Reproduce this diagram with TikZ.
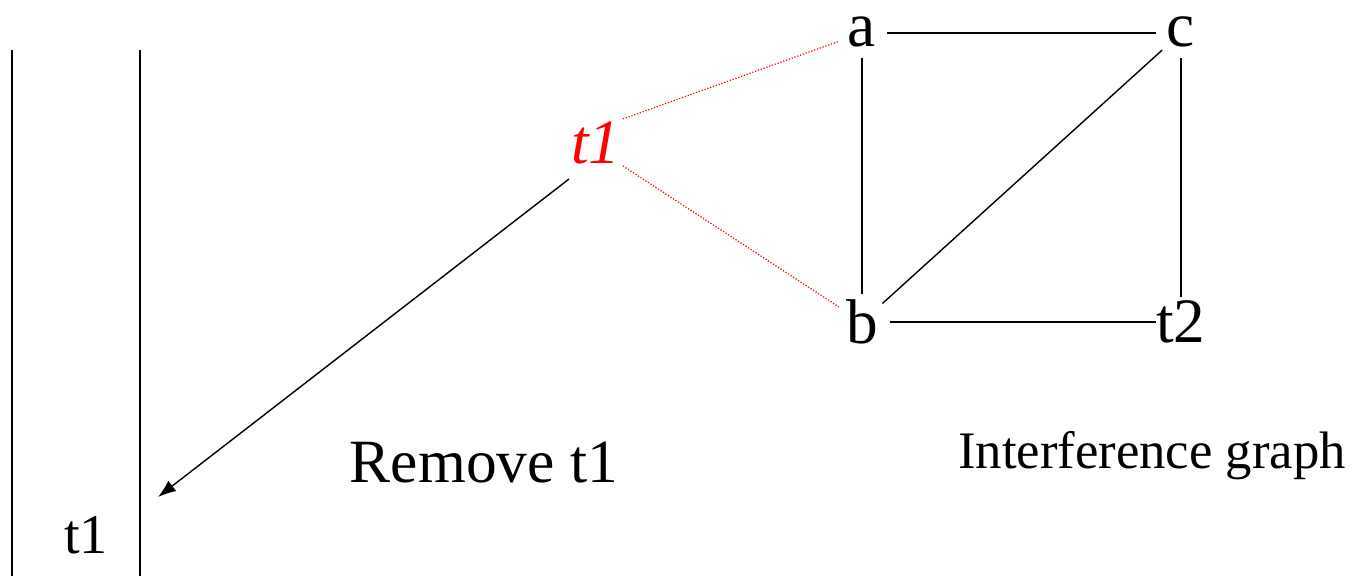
\documentclass[tikz,border=0pt]{standalone}
\usepackage{fontspec}
\setmainfont{Liberation Serif}
\usepackage{xcolor}
\definecolor{igred}{RGB}{255,0,0}
\usetikzlibrary{arrows.meta}

\tikzset{
  txt/.style={font=\fontsize{36}{42}\selectfont},
  vertex/.style={txt, circle, inner sep=0pt, minimum size=1cm},
  edge/.style={black, line width=0.8pt},
  spill/.style={igred, densely dotted, line width=0.7pt},
  caption/.style={anchor=base, inner sep=0pt},
}

\begin{document}
\begin{tikzpicture}[x=0.02cm, y=-0.02cm]
\useasboundingbox (0,0) rectangle (1356,576);

% === Stack ===
\draw[edge] (12,50) -- (12,576);
\draw[edge] (140,50) -- (140,576);
\node[caption, font=\fontsize{32}{38}\selectfont] (pushed) at (86,553) {t1};
\coordinate (top) at (158,497);

% === Interference graph ===
\node[vertex, text depth=0.17em] (a) at (862,33) {a};
\node[vertex, text depth=0.17em] (c) at (1181,33) {c};
\node[vertex] (b) at (862,322) {b};
\node[vertex, inner sep=-6pt] (t2) at (1181,322) {t2};

\draw[edge] (a) -- (c);
\draw[edge] (a) -- (b);
\draw[edge] (c) -- (t2);
\draw[edge] (c) -- (b);
\draw[edge] (b) -- (t2);

% === Removed node ===
\node[caption, inner sep=0.04cm, igred, font=\fontsize{36}{42}\selectfont\itshape] (t1) at (596,163) {t1};
\draw[spill] (t1.north east) -- (a);
\draw[spill] (t1.south east) -- (b);
\draw[edge, -{Latex[length=0.36cm, width=0.26cm]}] ([yshift=-0.26cm]t1.south west) -- (top);

% === Captions ===
\node[caption, font=\fontsize{35}{42}\selectfont] (remove) at (484,482) {Remove t1};
\node[caption, font=\fontsize{30}{36}\selectfont] (igraph) at (1152,468) {Interference graph};

\end{tikzpicture}
\end{document}
